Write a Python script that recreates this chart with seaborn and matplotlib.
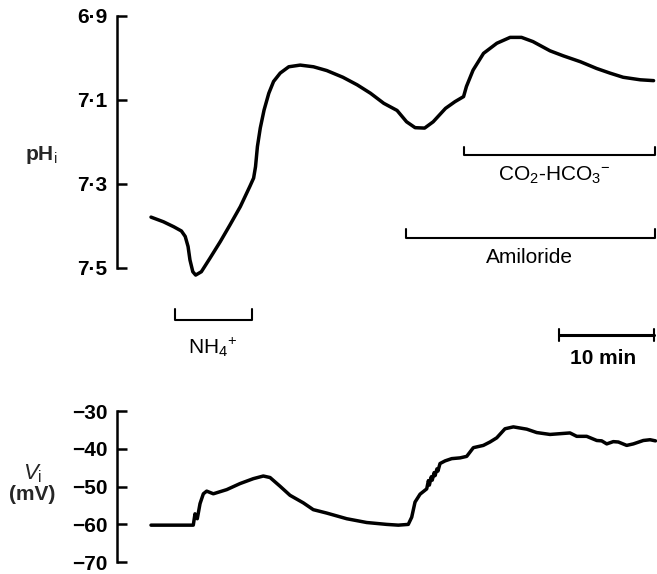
import matplotlib
matplotlib.use("Agg")
import matplotlib.pyplot as plt
import seaborn as sns
import pandas as pd

sns.set_style("white")
plt.rcParams['font.family'] = ['Liberation Sans', 'DejaVu Sans']
plt.rcParams['mathtext.fontset'] = 'custom'
plt.rcParams['mathtext.rm'] = 'Liberation Sans'
plt.rcParams['mathtext.it'] = 'Liberation Sans:italic'
plt.rcParams['mathtext.bf'] = 'Liberation Sans:bold'

# ---- data: intracellular pH trace (time in min) ----
ph_time = [0.0, 1.3, 2.4, 3.2, 3.6, 3.9, 4.1, 4.4, 4.7, 5.3, 6.2, 7.3, 8.3, 9.4, 10.4,
           10.8, 11.0, 11.2, 11.5, 11.9, 12.4, 12.9, 13.6, 14.5, 15.7, 17.1, 18.5, 20.2,
           21.7, 23.1, 24.5, 25.9, 26.9, 27.8, 28.8, 29.7, 31.0, 32.0, 32.9, 33.2, 33.9,
           35.0, 36.4, 37.8, 39.0, 40.2, 42.0, 43.4, 45.2, 46.9, 48.3, 49.7, 51.5, 52.9]
ph_value = [7.379, 7.390, 7.402, 7.412, 7.425, 7.449, 7.481, 7.509, 7.517, 7.509, 7.477,
            7.437, 7.398, 7.354, 7.306, 7.286, 7.259, 7.211, 7.167, 7.124, 7.084, 7.056,
            7.036, 7.021, 7.017, 7.021, 7.030, 7.046, 7.064, 7.084, 7.108, 7.125, 7.152,
            7.166, 7.167, 7.152, 7.120, 7.104, 7.092, 7.068, 7.029, 6.989, 6.965, 6.951,
            6.951, 6.961, 6.983, 6.995, 7.009, 7.025, 7.036, 7.046, 7.052, 7.054]

# ---- data: membrane potential trace (mV) ----
vm_time = [0.0, 4.45, 4.63, 4.87, 5.16, 5.51, 5.86, 6.56, 7.97, 9.37, 10.77, 11.82, 12.53,
           13.58, 14.63, 16.03, 17.08, 18.49, 20.6, 22.7, 24.81, 26.03, 27.08, 27.44, 27.79,
           28.32, 29.02, 29.2, 29.3, 29.5, 29.6, 29.8, 29.9, 30.1, 30.2, 30.42, 30.95,
           31.65, 32.53, 33.23, 33.93, 34.98, 35.68, 36.39, 37.26, 38.14, 39.55, 40.6, 42.0,
           44.1, 44.81, 45.86, 46.92, 47.44, 47.97, 48.66, 49.19, 50.07, 50.77, 51.82, 52.53,
           53.1]
vm_value = [-60.2, -60.2, -57.2, -58.5, -54.5, -51.9, -51.2, -51.9, -50.8, -49.2, -47.9,
            -47.2, -47.6, -49.9, -52.3, -54.3, -56.1, -57.0, -58.5, -59.5, -60.0, -60.2,
            -60.0, -58.1, -54.1, -52.0, -50.6, -48.4, -49.6, -47.4, -48.3, -46.3, -47.1,
            -45.3, -45.9, -43.9, -43.2, -42.6, -42.4, -42.0, -39.7, -39.1, -38.2, -37.1,
            -34.7, -34.2, -34.8, -35.7, -36.2, -35.8, -36.7, -36.7, -37.8, -37.9, -38.7,
            -38.1, -38.2, -39.1, -38.7, -37.8, -37.6, -37.9]

# ---- tick labels ----
ph_ticks = [6.9, 7.1, 7.3, 7.5]
ph_ticklabels = ['6·9', '7·1', '7·3', '7·5']
vm_ticks = [-30, -40, -50, -60, -70]
vm_ticklabels = ['−30', '−40', '−50', '−60', '−70']

# ---- annotation brackets: (label, start, end, label centre) in minutes ----
bracket_labels = ['NH$_4$$^{+}$', 'Amiloride', 'CO$_2$-HCO$_3$$^{-}$']
bracket_start = [2.5, 26.8, 32.9]
bracket_end = [10.6, 53.0, 53.0]
bracket_label_x = [6.5, 39.8, 42.4]
bracket_level = [7.624, 7.429, 7.231]
bracket_top = [7.598, 7.407, 7.212]
bracket_label_level = [7.690, 7.476, 7.280]
scale_start, scale_end = 42.9, 52.9
scale_label = '10 min'

W, H = 657, 574
fig = plt.figure(figsize=(W / 100, H / 100), dpi=100)

ax_left = 117 / W
ax_w = (657 - 117) / W
xlim = (-3.58, 53.26)

ax1 = fig.add_axes([ax_left, 1 - 370 / H, ax_w, 370 / H])
ax2 = fig.add_axes([ax_left, 3 / H, ax_w, 179 / H])

df_ph = pd.DataFrame({'t': ph_time, 'pH': ph_value})
df_vm = pd.DataFrame({'t': vm_time, 'V': vm_value})
sns.lineplot(data=df_ph, x='t', y='pH', ax=ax1, color='black', linewidth=2.5, sort=False,
             solid_joinstyle='round', solid_capstyle='round')
sns.lineplot(data=df_vm, x='t', y='V', ax=ax2, color='black', linewidth=2.5, sort=False,
             solid_joinstyle='round', solid_capstyle='round')

ax1.set_xlim(*xlim)
ax1.set_ylim(7.743, 6.862)
ax2.set_xlim(*xlim)
ax2.set_ylim(-72.33, -24.97)

for ax, ticks, labels, bounds in [(ax1, ph_ticks, ph_ticklabels, (6.9, 7.5)),
                                  (ax2, vm_ticks, vm_ticklabels, (-70, -30))]:
    for s in ['top', 'right', 'bottom']:
        ax.spines[s].set_visible(False)
    ax.spines['left'].set_linewidth(1.8)
    ax.spines['left'].set_color('black')
    ax.spines['left'].set_bounds(*bounds)
    ax.set_yticks(ticks)
    ax.set_yticklabels(labels, fontsize=15, fontweight='bold')
    ax.set_xticks([])
    ax.tick_params(axis='y', direction='in', length=7, width=1.8, pad=7, colors='black', left=True)
    ax.set_xlabel('')
    ax.set_ylabel('')
    ax.patch.set_alpha(0)

for label, t0, t1, lx, lev, top, lab in zip(bracket_labels, bracket_start, bracket_end,
                                             bracket_label_x, bracket_level, bracket_top,
                                             bracket_label_level):
    ax1.plot([t0, t0, t1, t1], [top, lev, lev, top], color='black', lw=1.5, clip_on=False)
    ax1.text(lx, lab, label, ha='center', va='center', fontsize=15, color='black')

slev = 7.660
ax1.plot([scale_start, scale_end], [slev, slev], color='black', lw=2.2, clip_on=False)
for s in (scale_start, scale_end):
    ax1.plot([s, s], [slev - 0.015, slev + 0.015], color='black', lw=1.5, clip_on=False)
ax1.text(47.6, 7.715, scale_label, ha='center', va='center', fontsize=15,
         fontweight='bold', color='black')

fig.text(41 / W, 1 - 155 / H, r'pH$_{\mathrm{i}}$', ha='center', va='center', fontsize=15,
         fontweight='bold')
fig.text(33 / W, 1 - 474 / H, r'$V_{\mathrm{i}}$', ha='center', va='center', fontsize=16)
fig.text(32 / W, 1 - 495 / H, '(mV)', ha='center', va='center', fontsize=15, fontweight='bold')

fig.savefig('out.png', dpi=100, facecolor='white')
